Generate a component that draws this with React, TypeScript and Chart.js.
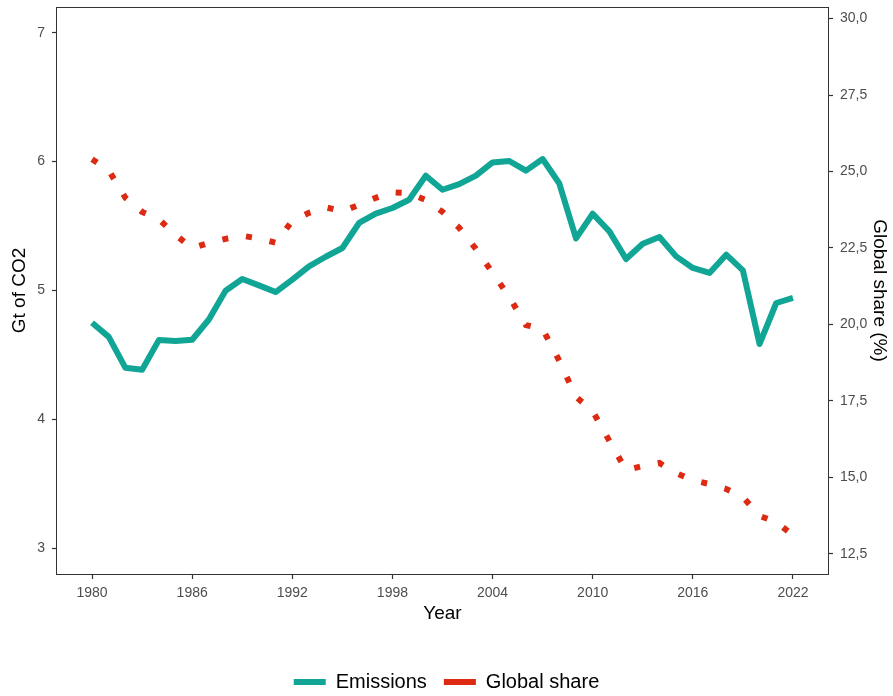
import React, { useEffect, useRef } from "react";
import { Chart, registerables } from "chart.js";

Chart.register(...registerables);

// Annual CO2 emissions (Gt) and share of the global total (%)
const YEARS = [
  1980, 1981, 1982, 1983, 1984, 1985, 1986, 1987, 1988, 1989,
  1990, 1991, 1992, 1993, 1994, 1995, 1996, 1997, 1998, 1999,
  2000, 2001, 2002, 2003, 2004, 2005, 2006, 2007, 2008, 2009,
  2010, 2011, 2012, 2013, 2014, 2015, 2016, 2017, 2018, 2019,
  2020, 2021, 2022,
];

const EMISSIONS = [
  4.75, 4.64, 4.4, 4.385, 4.615, 4.608, 4.618, 4.775, 4.998, 5.089,
  5.04, 4.988, 5.084, 5.187, 5.262, 5.33, 5.524, 5.596, 5.64, 5.704,
  5.891, 5.782, 5.826, 5.891, 5.994, 6.005, 5.93, 6.02, 5.83, 5.405,
  5.596, 5.459, 5.244, 5.363, 5.415, 5.265, 5.175, 5.136, 5.278, 5.156,
  4.585, 4.903, 4.942,
];

const GLOBAL_SHARE = [
  25.4, 25.04, 24.14, 23.68, 23.44, 22.93, 22.49, 22.67, 22.8, 22.9,
  22.81, 22.67, 23.39, 23.65, 23.83, 23.7, 23.91, 24.14, 24.32, 24.29,
  24.07, 23.68, 23.16, 22.47, 21.69, 20.9, 19.98, 19.85, 18.81, 17.63,
  17.17, 16.19, 15.24, 15.37, 15.47, 15.14, 14.91, 14.78, 14.62, 14.36,
  13.74, 13.54, 13.11,
];

const YEAR_TICKS = [1980, 1986, 1992, 1998, 2004, 2010, 2016, 2022];
const CO2_TICKS = [3, 4, 5, 6, 7];
const SHARE_TICKS = [12.5, 15, 17.5, 20, 22.5, 25, 27.5, 30];

const SERIES_NAMES = ["Emissions", "Global share"];
const TEAL = "#11a595";
const RED = "#dc2a13";
const FONT = "'Liberation Sans', Arial, Helvetica, sans-serif";
const TICK_COLOR = "#4d4d4d";
const AXIS_COLOR = "#333333";

// Box around the plotting panel
const panelFrame = {
  id: "panelFrame",
  afterDatasetsDraw(chart: any) {
    const { ctx, chartArea } = chart;
    const l = Math.round(chartArea.left) - 0.5;
    const t = Math.round(chartArea.top) + 0.5;
    const r = Math.round(chartArea.right) + 0.5;
    const b = Math.round(chartArea.bottom) + 0.5;
    ctx.save();
    ctx.strokeStyle = AXIS_COLOR;
    ctx.lineWidth = 1;
    ctx.strokeRect(l, t, r - l, b - t);
    ctx.restore();
  },
};

const tickGrid = {
  display: true,
  drawOnChartArea: false,
  drawTicks: true,
  tickLength: 5,
  tickColor: AXIS_COLOR,
  tickWidth: 1.2,
};

export default function App() {
  const canvasRef = useRef<HTMLCanvasElement | null>(null);

  useEffect(() => {
    if (!canvasRef.current) return;
    const emissionPoints = YEARS.map((yr, i) => ({ x: yr, y: EMISSIONS[i] }));
    const sharePoints = YEARS.map((yr, i) => ({ x: yr, y: GLOBAL_SHARE[i] }));

    const chart = new Chart(canvasRef.current, {
      type: "line",
      data: {
        datasets: [
          {
            label: SERIES_NAMES[0],
            data: emissionPoints,
            yAxisID: "yCo2",
            borderColor: TEAL,
            backgroundColor: TEAL,
            borderWidth: 6,
            borderJoinStyle: "round",
            borderCapStyle: "butt",
            pointRadius: 0,
            tension: 0,
            order: 1,
          },
          {
            label: SERIES_NAMES[1],
            data: sharePoints,
            yAxisID: "yShare",
            borderColor: RED,
            backgroundColor: RED,
            borderWidth: 6,
            borderDash: [6, 18],
            borderCapStyle: "butt",
            borderJoinStyle: "miter",
            pointRadius: 0,
            tension: 0,
            order: 0,
          },
        ],
      },
      options: {
        animation: false,
        responsive: true,
        maintainAspectRatio: false,
        events: [],
        layout: { padding: { top: 7, right: 0, bottom: -6, left: 0 } },
        plugins: {
          tooltip: { enabled: false },
          legend: {
            display: true,
            position: "bottom",
            labels: {
              color: "#111111",
              font: { family: FONT, size: 20 },
              boxWidth: 32,
              boxHeight: 6,
              padding: 17,
              generateLabels: () => [
                {
                  text: SERIES_NAMES[0],
                  fillStyle: TEAL,
                  strokeStyle: TEAL,
                  lineWidth: 0,
                  hidden: false,
                  datasetIndex: 0,
                },
                {
                  text: SERIES_NAMES[1],
                  fillStyle: RED,
                  strokeStyle: RED,
                  lineWidth: 0,
                  hidden: false,
                  datasetIndex: 1,
                },
              ],
            },
          },
        },
        scales: {
          x: {
            type: "linear",
            position: "bottom",
            min: 1977.9,
            max: 2024.1,
            afterBuildTicks: (scale: any) => {
              scale.ticks = YEAR_TICKS.map((v) => ({ value: v }));
            },
            afterFit: (scale: any) => {
              scale.height = 81;
            },
            grid: tickGrid,
            border: { display: false },
            ticks: {
              color: TICK_COLOR,
              font: { family: FONT, size: 14 },
              padding: 6,
              maxRotation: 0,
              callback: (v: any) => String(v),
            },
            title: {
              display: true,
              text: "Year",
              color: "#000000",
              font: { family: FONT, size: 19 },
              padding: { top: 4, bottom: 30 },
            },
          },
          yCo2: {
            type: "linear",
            position: "left",
            min: 2.8,
            max: 7.2,
            afterBuildTicks: (scale: any) => {
              scale.ticks = CO2_TICKS.map((v) => ({ value: v }));
            },
            afterFit: (scale: any) => {
              scale.width = 57;
              scale.paddingTop = 0;
              scale.paddingBottom = 0;
            },
            grid: tickGrid,
            border: { display: false },
            ticks: {
              color: TICK_COLOR,
              font: { family: FONT, size: 14 },
              padding: 7,
              callback: (v: any) => String(v),
            },
            title: {
              display: true,
              text: "Gt of CO2",
              color: "#000000",
              font: { family: FONT, size: 19 },
              padding: { top: 8, bottom: 0 },
            },
          },
          yShare: {
            type: "linear",
            position: "right",
            min: 11.84,
            max: 30.38,
            afterBuildTicks: (scale: any) => {
              scale.ticks = SHARE_TICKS.map((v) => ({ value: v }));
            },
            afterFit: (scale: any) => {
              scale.width = 65;
              scale.paddingTop = 0;
              scale.paddingBottom = 0;
            },
            grid: tickGrid,
            border: { display: false },
            ticks: {
              color: TICK_COLOR,
              font: { family: FONT, size: 14 },
              padding: 7,
              callback: (v: any) => Number(v).toFixed(1).replace(".", ","),
            },
            title: {
              display: true,
              text: "Global share (%)",
              color: "#000000",
              font: { family: FONT, size: 19 },
              padding: { top: 2, bottom: 0 },
            },
          },
        },
      },
      plugins: [panelFrame],
    } as any);

    return () => chart.destroy();
  }, []);

  return (
    <div
      style={{
        position: "fixed",
        left: 0,
        top: 0,
        width: 893,
        height: 696,
        background: "#ffffff",
      }}
    >
      <canvas ref={canvasRef} style={{ display: "block" }} />
    </div>
  );
}
